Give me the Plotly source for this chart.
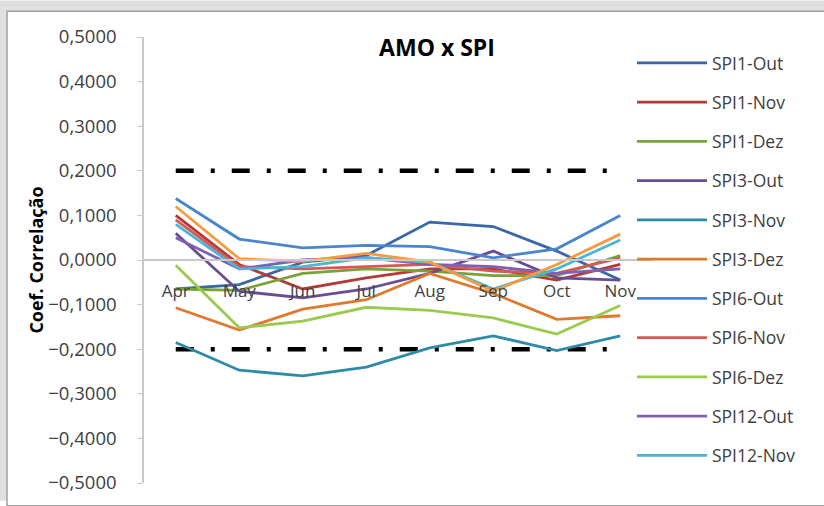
import plotly.graph_objects as go

# Meses (eixo das categorias)
meses = ["Apr", "May", "Jun", "Jul", "Aug", "Sep", "Oct", "Nov"]

# Coeficientes de correlação AMO x SPI por série
spi1_out = [-0.065, -0.055, -0.005, 0.010, 0.085, 0.075, 0.020, -0.045]
spi1_nov = [0.100, -0.010, -0.065, -0.040, -0.020, -0.020, -0.045, -0.010]
spi1_dez = [-0.065, -0.068, -0.030, -0.020, -0.025, -0.035, -0.035, 0.010]
spi3_out = [0.060, -0.070, -0.085, -0.065, -0.030, 0.020, -0.040, -0.045]
spi3_nov = [-0.185, -0.247, -0.260, -0.240, -0.197, -0.170, -0.203, -0.170]
spi3_dez = [-0.107, -0.157, -0.110, -0.089, -0.030, -0.075, -0.133, -0.125]
spi6_out = [0.138, 0.047, 0.027, 0.033, 0.030, 0.005, 0.025, 0.100]
spi6_nov = [0.090, -0.015, -0.020, -0.015, -0.010, -0.025, -0.030, 0.005]
spi6_dez = [-0.012, -0.152, -0.137, -0.106, -0.113, -0.130, -0.166, -0.102]
spi12_out = [0.050, -0.020, 0.000, 0.005, -0.010, -0.015, -0.030, -0.020]
spi12_nov = [0.080, -0.020, -0.015, 0.005, -0.005, -0.065, -0.020, 0.045]
spi12_dez = [0.120, 0.003, -0.003, 0.015, -0.005, -0.070, -0.010, 0.058]

# Limites de significância
limite_sup = [0.2] * len(meses)
limite_inf = [-0.2] * len(meses)

series = [
    ("SPI1-Out", spi1_out, "#3A67A8", True),
    ("SPI1-Nov", spi1_nov, "#B23B38", True),
    ("SPI1-Dez", spi1_dez, "#77A33A", True),
    ("SPI3-Out", spi3_out, "#6A4C93", True),
    ("SPI3-Nov", spi3_nov, "#2E8BA8", True),
    ("SPI3-Dez", spi3_dez, "#E2782D", True),
    ("SPI6-Out", spi6_out, "#4A85D0", True),
    ("SPI6-Nov", spi6_nov, "#D45A55", True),
    ("SPI6-Dez", spi6_dez, "#9ACB4F", True),
    ("SPI12-Out", spi12_out, "#8060B0", True),
    ("SPI12-Nov", spi12_nov, "#4BB5D8", True),
    ("SPI12-Dez", spi12_dez, "#F89A40", False),
]

W, H = 824, 506
ML, MR, MT, MB = 144, 172, 37, 18
PW, PH = W - ML - MR, H - MT - MB


def px_x(x):
    return (x - ML) / PW


def px_y(y):
    return (H - MB - y) / PH


FONT = "Open Sans"
TXT = "#404040"

fig = go.Figure()

for lim in (limite_sup, limite_inf):
    fig.add_trace(go.Scatter(
        x=meses, y=lim, mode="lines", showlegend=False, hoverinfo="skip",
        line=dict(color="black", width=4.5, dash="18px,17px,4px,17px"),
    ))

for i, (nome, vals, cor, leg) in enumerate(series):
    fig.add_trace(go.Scatter(
        x=meses, y=vals, mode="lines", name=nome, showlegend=leg,
        legendgroup=nome, line=dict(color=cor, width=2.8),
    ))

# Moldura do gráfico
fig.add_shape(type="rect", xref="paper", yref="paper",
              x0=px_x(0), x1=px_x(W), y0=px_y(H), y1=px_y(0),
              fillcolor="#E0E0E0", line_width=0, layer="below")
fig.add_shape(type="rect", xref="paper", yref="paper",
              x0=px_x(7), x1=px_x(W + 5), y0=px_y(H + 5), y1=px_y(11),
              fillcolor="white", line=dict(color="#A0A0A0", width=1.5),
              layer="below")

fig.update_layout(
    width=W, height=H,
    margin=dict(l=ML, r=MR, t=MT, b=MB),
    paper_bgcolor="white", plot_bgcolor="rgba(0,0,0,0)",
    separators=", ",
    font=dict(family=FONT, color=TXT),
    title=dict(text="<b>AMO x SPI</b>", x=437 / W,
               xanchor="center", y=1 - 48 / H, yanchor="middle",
               font=dict(size=23, color="black", family=FONT)),
    xaxis=dict(
        type="category", range=[-0.5, 7.5], anchor="free", position=0.5,
        showline=True, linecolor="#C8C8C8", linewidth=1.5,
        ticks="", showgrid=False, ticklabelstandoff=16,
        tickfont=dict(size=17, color=TXT),
    ),
    yaxis=dict(
        range=[-0.5, 0.5], dtick=0.1, tick0=0, tickformat=".4f",
        showline=True, linecolor="#C8C8C8", linewidth=1.5,
        ticks="outside", ticklen=5, tickcolor="#C8C8C8",
        showgrid=False, zeroline=False, ticklabelstandoff=17,
        tickfont=dict(size=18.5, color=TXT),
        title=dict(text="<b>Coef. Correlação</b>", standoff=0,
                   font=dict(size=18, color="black")),
    ),
    legend=dict(
        x=px_x(632), y=px_y(45), xanchor="left", yanchor="top",
        bgcolor="rgba(0,0,0,0)", font=dict(size=17.5, color=TXT),
        tracegroupgap=13.5, itemwidth=70,
    ),
)

fig.write_html("out.html")
